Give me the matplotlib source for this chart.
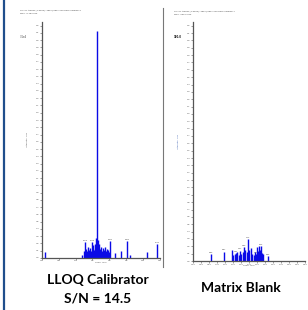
import matplotlib.pyplot as plt
from matplotlib.lines import Line2D

# LLOQ calibrator chromatogram: retention time (min) and intensity (% of axis)
lloq_time = [0.09, 1.20, 1.24, 1.28, 1.31, 1.34, 1.37, 1.40, 1.43, 1.46, 1.48,
             1.51, 1.53, 1.56, 1.58, 1.60, 1.63, 1.66, 1.68, 1.71, 1.74, 1.77,
             1.80, 1.83, 1.86, 1.89, 1.92, 1.95, 1.98, 2.02, 2.17, 2.34, 2.52,
             2.61, 3.12, 3.41]
lloq_int = [2.5, 1.5, 3.0, 7.0, 4.0, 3.0, 5.0, 3.5, 4.5, 3.0, 7.0,
            4.0, 5.5, 3.5, 6.0, 9.0, 100.0, 8.0, 6.0, 4.0, 5.0, 3.0,
            4.5, 3.5, 5.0, 3.0, 4.0, 3.5, 2.5, 7.5, 2.0, 3.0, 7.5,
            1.2, 2.5, 6.0]
lloq_labels = {1.28: "1.28", 1.48: "1.48", 2.02: "2.02", 2.52: "2.52", 3.41: "3.41"}

# Matrix blank chromatogram
blank_time = [0.56, 0.97, 1.22, 1.26, 1.30, 1.34, 1.38, 1.42, 1.47, 1.51,
              1.55, 1.59, 1.63, 1.67, 1.72, 1.76, 1.81, 1.85, 1.90, 1.94,
              1.97, 2.00, 2.03, 2.06, 2.09, 2.12, 2.16, 2.19, 2.34]
blank_int = [3.0, 4.0, 5.0, 2.5, 3.0, 3.5, 4.0, 2.5, 4.5, 3.0,
             4.0, 6.0, 5.0, 4.0, 9.5, 5.0, 5.5, 3.0, 2.5, 4.0,
             3.0, 6.0, 4.5, 6.5, 5.0, 6.5, 3.5, 3.0, 2.0]
blank_labels = {0.56: "0.56", 0.97: "0.97", 1.34: "1.34", 1.47: "1.47", 1.59: "1.59",
                1.72: "1.72", 1.97: "1.97", 2.12: "2.12", 2.34: "2.34"}

BLUE = "#0a0ae6"
AXIS = "#555555"
TITLE_FONT = ["Lato", "DejaVu Sans"]


def style(ax, xstep):
    for side in ("top", "right"):
        ax.spines[side].set_visible(False)
    for side in ("left", "bottom"):
        ax.spines[side].set_color(AXIS)
        ax.spines[side].set_linewidth(0.9)
    ax.set_xlim(0, 3.5)
    ax.set_ylim(0, 104)
    ax.set_xticks([i * xstep for i in range(int(3.5 / xstep) + 1)])
    ax.set_yticks([i * 3.2 for i in range(33)])
    ax.set_yticklabels([f"{i * 0.1:.1f}" for i in range(33)])
    ax.tick_params(labelsize=1.6, length=1.2, width=0.4, colors=AXIS, pad=0.6)
    ax.set_xlabel("Time, min", fontsize=1.6, labelpad=0.5, color=AXIS)


fig = plt.figure(figsize=(3.08, 3.10), dpi=100, facecolor="white")

left = fig.add_axes([0.136, 0.168, 0.383, 0.761])
left.vlines(lloq_time, 0, lloq_int, color=BLUE, linewidth=1.0)
for t, lab in lloq_labels.items():
    h = lloq_int[lloq_time.index(t)]
    left.text(t, h + 0.6, lab, fontsize=1.6, ha="center", va="bottom", color="#333333")
style(left, 0.5)
left.set_ylabel("Intensity, cps", fontsize=1.6, color=AXIS, labelpad=6)

right = fig.add_axes([0.627, 0.158, 0.364, 0.771])
right.vlines(blank_time, 0, blank_int, color=BLUE, linewidth=1.0)
for t, lab in blank_labels.items():
    h = blank_int[blank_time.index(t)]
    right.text(t, h + 0.6, lab, fontsize=1.4, ha="center", va="bottom", color="#333333")
style(right, 0.25)
right.set_ylabel("Intensity, cps", fontsize=1.6, color="#3a5fb0", labelpad=6)

# tiny header lines above each panel
fig.text(0.065, 0.965, "XIC of +MRM (2 pairs): 455.2/165.1 Da from Sample 3", fontsize=1.6, color="#444444")
fig.text(0.065, 0.955, "Max. 3.1e4 cps.", fontsize=1.6, color="#444444")
fig.text(0.565, 0.962, "XIC of +MRM (2 pairs): 455.2/165.1 Da from Sample 7", fontsize=1.6, color="#444444")
fig.text(0.565, 0.952, "Max. 180.0 cps.", fontsize=1.6, color="#444444")
fig.text(0.065, 0.877, "3.1e4", fontsize=1.8, color="#444444")
fig.text(0.565, 0.877, "180.0", fontsize=1.8, color="#111111", weight="bold")

# frame decorations
fig.add_artist(Line2D([0.013, 0.013], [0, 1], color="#1f4e8c", linewidth=1.6))
fig.add_artist(Line2D([0.529, 0.529], [0.14, 0.975], color="#777777", linewidth=0.8))

fig.text(0.318, 0.097, "LLOQ Calibrator", fontsize=10, weight="bold", ha="center", va="center",
         family=TITLE_FONT)
fig.text(0.318, 0.037, "S/N = 14.5", fontsize=10, weight="bold", ha="center", va="center",
         family=TITLE_FONT)
fig.text(0.782, 0.071, "Matrix Blank", fontsize=10, weight="bold", ha="center", va="center",
         family=TITLE_FONT)

fig.savefig("out.png", dpi=100, facecolor="white")
